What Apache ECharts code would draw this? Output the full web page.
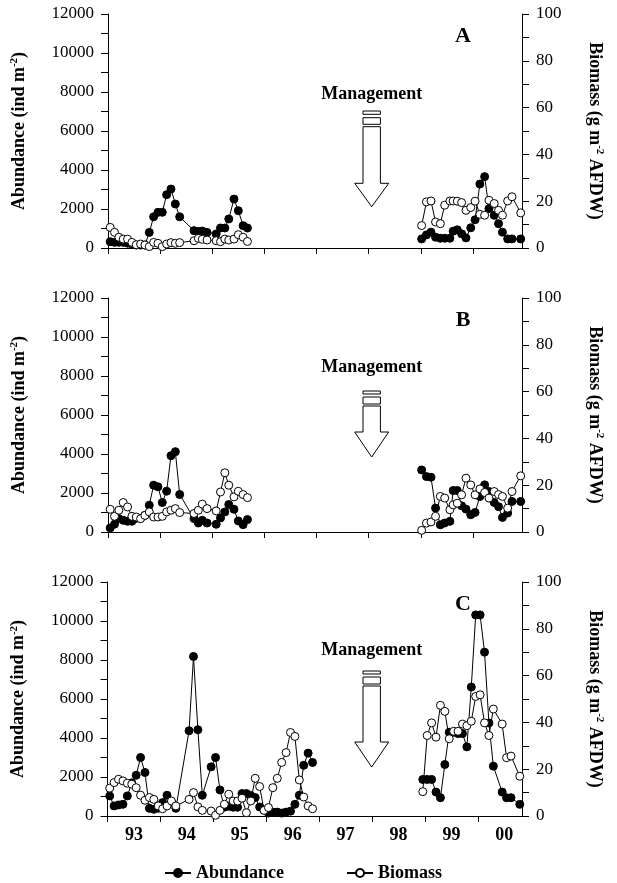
<!DOCTYPE html>
<html>
<head>
<meta charset="utf-8">
<script src="https://cdn.jsdelivr.net/npm/echarts@6.0.0/dist/echarts.min.js"></script>
<style>
  html, body { margin: 0; padding: 0; background: #fff; }
  #chart { width: 617px; height: 883px; }
</style>
</head>
<body>
<div id="chart"></div>
<script>
// x is months counted from Jan 1993
const yearLabels = ['93', '94', '95', '96', '97', '98', '99', '00']
const yearTicks = [0, 12, 24, 36, 48, 60, 72, 84]
const yearMids = [6, 18, 30, 42, 54, 66, 78, 90]

// panels A and B share sampling dates
const monthsEarly = [0.5, 1.5, 2.5, 3.5, 4.5, 5.5, 6.5, 7.5, 8.5, 9.5, 10.5, 11.5, 12.5, 13.5, 14.5, 15.5, 16.5,
  19.8, 20.8, 21.7, 22.8, 24.9, 25.9, 26.9, 27.8, 29, 30, 31.1, 32.1]
const monthsLate = [72.2, 73.3, 74.35, 75.4, 76.5, 77.5, 78.7, 79.45, 80.4, 81.4, 82.4, 83.5, 84.5, 85.6, 86.7,
  87.7, 88.9, 89.9, 90.8, 92, 93, 95]

// panel A
const abundA1 = [325, 290, 290, 290, 250, 200, 150, 150, 150, 800, 1600, 1830, 1830, 2735, 3025, 2256, 1600,
  890, 850, 870, 800, 720, 1025, 1025, 1490, 2510, 1915, 1145, 1025]
const biomA1 = [8.8, 6.7, 4.6, 3.8, 3.8, 2.4, 1.4, 1.7, 1.3, 0.6, 2.4, 2, 0.6, 1.7, 2.3, 2, 2.3,
  3.1, 4.1, 3.7, 3.4, 3.1, 2.7, 3.8, 3.4, 3.8, 5.7, 4.6, 2.8]
const abundA2 = [466, 673, 811, 553, 500, 500, 500, 863, 932, 725, 518, 1036, 1450, 3280, 3660, 2020, 1675,
  1250, 811, 466, 466, 466]
const biomA2 = [9.6, 19.7, 20.1, 11.1, 10.4, 18.3, 20.1, 20.1, 20, 19.4, 16.1, 17.3, 20, 14.4, 14, 20.4, 19,
  16.1, 14, 20.1, 21.9, 15]

// panel B
const abundB1 = [206, 400, 687, 600, 550, 550, 700, 700, 850, 1373, 2400, 2318, 1510, 2094, 3914, 4120, 1923,
  687, 463, 600, 463, 395, 721, 1030, 1408, 1167, 566, 378, 635]
const biomB1 = [9.7, 6.7, 9.3, 12.6, 10.7, 6.7, 6.4, 5.7, 7.1, 8.6, 6.4, 6.4, 6.7, 8.6, 9.3, 10, 8.3,
  7.9, 9.3, 11.9, 10, 9, 17.1, 25.3, 20, 15, 17.4, 16, 14.7]
const abundB2 = [3183, 2843, 2809, 1225, 367, 460, 545, 2128, 2128, 1345, 1174, 885, 1004, 1821, 2417, 2077,
  1515, 1300, 749, 970, 1566, 1566]
const biomB2 = [0.7, 3.8, 4.3, 6.7, 15.2, 14.5, 9.5, 11.6, 12.3, 15.9, 23, 20.1, 15.9, 18.4, 16.9, 14.5,
  17.3, 16, 15.2, 10.2, 17.3, 24]

// panel C
const monthsC1 = [0.5, 1.5, 2.5, 3.5, 4.5, 5.5, 6.5, 7.5, 8.5, 9.5, 10.5, 11.5, 12.5, 13.5, 14.5, 15.5,
  18.5, 19.5, 20.5, 21.5, 23.5, 24.5, 25.5, 26.5, 27.5, 28.5, 29.5, 30.5, 31.5, 32.5, 33.5, 34.5, 35.5,
  36.5, 37.5, 38.5, 39.5, 40.5, 41.5, 42.5, 43.5, 44.5, 45.5, 46.5]
const abundC1 = [1030, 515, 566, 600, 1030, 1700, 2090, 3000, 2230, 394, 343, 400, 686, 1063, 700, 394,
  4374, 8180, 4425, 1063, 2520, 3000, 1337, 450, 500, 450, 450, 1150, 1150, 1050, 943, 463, 300,
  150, 200, 200, 150, 200, 250, 600, 1063, 2600, 3225, 2744]
const biomC1 = [11.9, 14.3, 15.7, 15, 14, 13.6, 12.1, 8.9, 6.7, 7.9, 7.1, 4.3, 3.1, 4.3, 6.4, 4.3,
  7.1, 10, 3.9, 2.4, 2.1, 0.3, 2.4, 5, 9.3, 6.4, 6.4, 7.6, 1.4, 6.4, 16.1, 12.6, 2.4,
  3.6, 12.1, 16.1, 22.9, 27.1, 35.7, 34, 15.4, 8.1, 4.3, 3.1]
const monthsC2 = [71.5, 72.5, 73.5, 74.5, 75.5, 76.5, 77.5, 78.5, 79.5, 80.5, 81.5, 82.5, 83.5, 84.5, 85.5,
  86.5, 87.5, 89.5, 90.5, 91.5, 93.5]
const abundC2 = [1875, 1875, 1875, 1227, 937, 2640, 4295, 4295, 4227, 4227, 3545, 6614, 10312, 10312, 8403,
  4773, 2557, 1227, 937, 937, 597]
const biomC2 = [10.4, 34.4, 39.8, 33.7, 47.3, 44.7, 33, 36.2, 36.2, 39.3, 38.6, 40.5, 51.1, 51.8, 39.8,
  34.4, 45.7, 39.3, 24.9, 25.6, 17]

const FONT = 'Liberation Serif'

// join the two sampling periods, with a break in between
function joined(x1, y1, x2, y2) {
  const a = x1.map((x, i) => [x, y1[i]])
  const b = x2.map((x, i) => [x, y2[i]])
  return a.concat([[50, '-']], b)
}

const panels = [
  { top: 14, left: 108, xMax: 95.3, letter: 'A',
    abund: joined(monthsEarly, abundA1, monthsLate, abundA2),
    biom: joined(monthsEarly, biomA1, monthsLate, biomA2) },
  { top: 298, left: 108, xMax: 95.3, letter: 'B',
    abund: joined(monthsEarly, abundB1, monthsLate, abundB2),
    biom: joined(monthsEarly, biomB1, monthsLate, biomB2) },
  { top: 582, left: 107.5, xMax: 94, letter: 'C',
    abund: joined(monthsC1, abundC1, monthsC2, abundC2),
    biom: joined(monthsC1, biomC1, monthsC2, biomC2) },
]

const axisLine = { show: true, lineStyle: { color: '#000', width: 1 } }
const tickLabel = { color: '#000', fontFamily: FONT, fontSize: 17, formatter: v => String(v) }
const nameRich = {
  t: { fontFamily: FONT, fontSize: 18, fontWeight: 'bold', color: '#000', lineHeight: 20 },
  s: { fontFamily: FONT, fontSize: 11, fontWeight: 'bold', color: '#000', lineHeight: 20, verticalAlign: 'top' },
}

const grid = [], xAxis = [], yAxis = [], series = []
panels.forEach((p, i) => {
  grid.push({ left: p.left, top: p.top, width: 522 - p.left, height: 234 })
  const last = i === panels.length - 1
  xAxis.push({
    type: 'value', gridIndex: i, min: 0, max: p.xMax,
    axisLine,
    splitLine: { show: false },
    axisTick: { show: true, inside: false, length: 6, customValues: yearTicks, lineStyle: { color: '#000' } },
    axisLabel: {
      show: last, customValues: yearMids, margin: 10,
      color: '#000', fontFamily: FONT, fontSize: 18, fontWeight: 'bold',
      formatter: v => yearLabels[Math.round((v - 6) / 12)],
    },
  })
  yAxis.push({
    type: 'value', gridIndex: i, min: 0, max: 12000, interval: 2000, position: 'left',
    axisLine, splitLine: { show: false },
    axisTick: { show: true, length: 7, lineStyle: { color: '#000' } },
    minorTick: { show: true, splitNumber: 2, length: 7, lineStyle: { color: '#000' } },
    axisLabel: Object.assign({ margin: 14 }, tickLabel),
    name: '{t|Abundance (ind m}{s|-2}{t|)}',
    nameLocation: 'middle', nameGap: 79, nameRotate: 90,
    nameTextStyle: { rich: nameRich },
  })
  yAxis.push({
    type: 'value', gridIndex: i, min: 0, max: 100, interval: 20, position: 'right',
    axisLine, splitLine: { show: false },
    axisTick: { show: true, length: 7, lineStyle: { color: '#000' } },
    minorTick: { show: true, splitNumber: 2, length: 7, lineStyle: { color: '#000' } },
    axisLabel: Object.assign({ margin: 14 }, tickLabel),
    name: '{t|Biomass (g m}{s|-2}{t| AFDW)}',
    nameLocation: 'middle', nameGap: 63, nameRotate: -90,
    nameTextStyle: { rich: nameRich },
  })
  series.push({
    name: 'Abundance', type: 'line', xAxisIndex: i, yAxisIndex: 2 * i,
    data: p.abund, symbol: 'circle', symbolSize: 8, connectNulls: false,
    lineStyle: { color: '#000', width: 1 },
    itemStyle: { color: '#000', borderColor: '#000', borderWidth: 1 },
  })
  series.push({
    name: 'Biomass', type: 'line', xAxisIndex: i, yAxisIndex: 2 * i + 1,
    data: p.biom, symbol: 'circle', symbolSize: 8, connectNulls: false,
    lineStyle: { color: '#000', width: 1 },
    itemStyle: { color: '#fff', borderColor: '#000', borderWidth: 1 },
  })
})

// "Management" label with the hollow arrow, per panel
function management(textY, r1, r2, shaftTop, headY, tipY) {
  const cx = 371.7, hw = 8.7, hh = 17
  const box = (y0, y1) => ({
    type: 'rect', shape: { x: cx - hw, y: y0, width: 2 * hw, height: y1 - y0 },
    style: { fill: '#fff', stroke: '#000', lineWidth: 1 },
  })
  return [
    { type: 'text', x: cx, y: textY, style: {
      text: 'Management', fill: '#000', font: 'bold 18px "Liberation Serif"',
      align: 'center', verticalAlign: 'middle' } },
    box(r1[0], r1[1]), box(r2[0], r2[1]),
    { type: 'polygon', shape: { points: [
      [cx - hw, shaftTop], [cx + hw, shaftTop], [cx + hw, headY], [cx + hh, headY],
      [cx, tipY], [cx - hh, headY], [cx - hw, headY]] },
      style: { fill: '#fff', stroke: '#000', lineWidth: 1 } },
  ]
}

const graphic = [].concat(
  management(94, [111, 114.3], [117.7, 124.3], 126.7, 183.3, 206.7),
  management(367, [391, 394], [397, 404], 406, 432, 457),
  management(650, [671, 674], [677, 684], 686, 742, 767),
  panels.map(p => ({
    type: 'text', x: 463, y: p.top + 22, style: {
      text: p.letter, fill: '#000', font: 'bold 22px "Liberation Serif"',
      align: 'center', verticalAlign: 'middle' },
  })),
)

const chart = echarts.init(document.getElementById('chart'))
chart.setOption({
  animation: false,
  backgroundColor: '#fff',
  grid, xAxis, yAxis, series, graphic,
  legend: {
    data: ['Abundance', 'Biomass'],
    left: 159, top: 859, itemWidth: 26, itemHeight: 10, itemGap: 62,
    textStyle: { fontFamily: FONT, fontSize: 18, fontWeight: 'bold', color: '#000' },
  },
})
</script>
</body>
</html>
